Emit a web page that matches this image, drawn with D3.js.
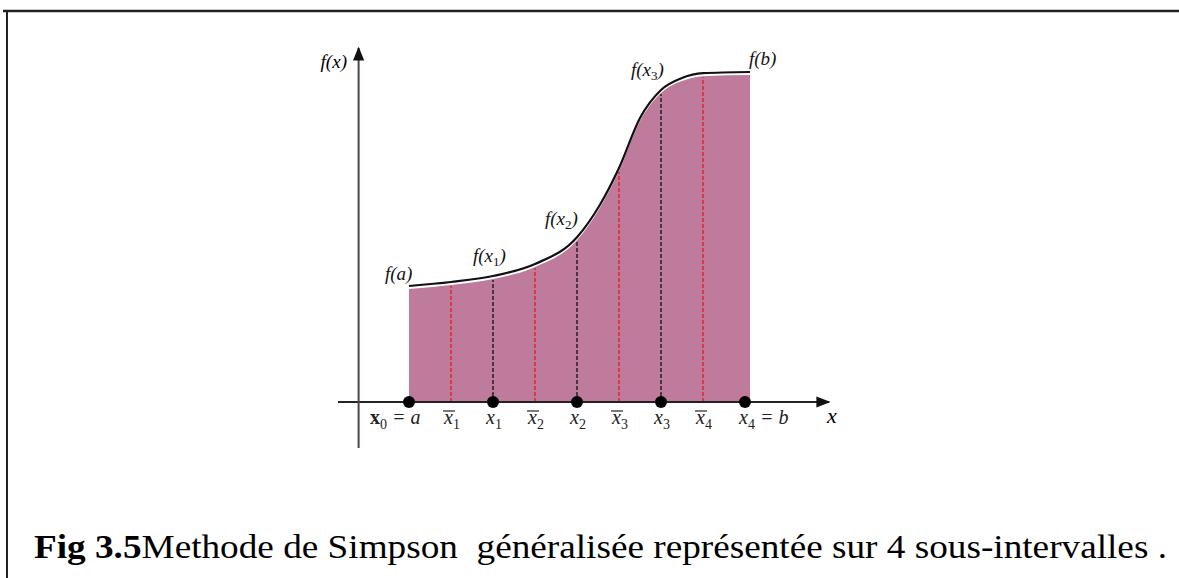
<!DOCTYPE html>
<html>
<head>
  <meta charset="UTF-8">
  <title>Methode de Simpson généralisée</title>
  <script src="https://d3js.org/d3.v7.min.js"></script>
  <style>
    body { margin: 0; background: #fff; }
    svg { display: block; }
  </style>
</head>
<body>
<div id="chart"></div>
<script>
  // curve samples (x in sub-interval units, f(x))
  const curveX = [0, 0.5, 1, 1.5, 2, 2.27, 2.5, 2.75, 3, 3.25, 3.5, 4.06];
  const curveF = [2.9, 3.0, 3.15, 3.45, 4.12, 4.92, 5.85, 7.1, 7.8, 8.1, 8.22, 8.25];

  const nodeX = [0, 1, 2, 3, 4];
  const midX = [0.5, 1.5, 2.5, 3.5];
  // node labels: [before subscript, subscript, after]
  const nodeLabels = [["f(a)", "", ""], ["f(x", "1", ")"], ["f(x", "2", ")"], ["f(x", "3", ")"], ["f(b)", "", ""]];
  // tick labels: [base, subscript, suffix, overbar]
  const tickX = [0, 0.5, 1, 1.5, 2, 2.5, 3, 3.5, 4];
  const tickLabels = [
    ["x", "0", " = a", false], ["x", "1", "", true], ["x", "1", "", false],
    ["x", "2", "", true], ["x", "2", "", false], ["x", "3", "", true],
    ["x", "3", "", false], ["x", "4", "", true], ["x", "4", " = b", false]
  ];
  const caption = ["Fig 3.5", "Methode de Simpson\u00a0 généralisée représentée sur 4 sous-intervalles ."];

  const width = 1179, height = 578;
  const serif = "Liberation Serif";
  const x = d3.scaleLinear().domain([0, 4]).range([409, 745]);
  const y = d3.scaleLinear().domain([0, 1]).range([402, 362]);

  const fAt = v => {
    const i = curveX.findIndex(c => c >= v);
    if (curveX[i] === v) return curveF[i];
    const t = (v - curveX[i - 1]) / (curveX[i] - curveX[i - 1]);
    return curveF[i - 1] + t * (curveF[i] - curveF[i - 1]);
  };

  const svg = d3.select("#chart").append("svg")
    .attr("width", width).attr("height", height);

  // frame
  svg.append("line").attr("x1", 3).attr("x2", width).attr("y1", 11).attr("y2", 11)
    .attr("stroke", "#222").attr("stroke-width", 2.5);
  svg.append("line").attr("x1", 7).attr("x2", 7).attr("y1", 11).attr("y2", height)
    .attr("stroke", "#222").attr("stroke-width", 2);

  const pts = curveX.map((v, i) => [v, curveF[i]]);

  // filled area
  const area = d3.area().x(d => x(d[0])).y0(y(0)).y1(d => y(d[1]) + 3).curve(d3.curveMonotoneX);
  svg.append("path").datum(pts).attr("d", area).attr("fill", "#bf7b9b");

  // dashed verticals
  svg.selectAll(".mid").data(midX).enter().append("line")
    .attr("x1", d => x(d)).attr("x2", d => x(d))
    .attr("y1", y(0)).attr("y2", d => y(fAt(d)) + 4)
    .attr("stroke", "#e8202a").attr("stroke-width", 1.5).attr("stroke-dasharray", "4,2");
  svg.selectAll(".node").data(nodeX.slice(1, 4)).enter().append("line")
    .attr("x1", d => x(d)).attr("x2", d => x(d))
    .attr("y1", y(0)).attr("y2", d => y(fAt(d)) + 4)
    .attr("stroke", "#222").attr("stroke-width", 1.5).attr("stroke-dasharray", "4,2");

  // curve
  const line = d3.line().x(d => x(d[0])).y(d => y(d[1])).curve(d3.curveMonotoneX);
  svg.append("path").datum(pts).attr("d", line)
    .attr("fill", "none").attr("stroke", "#111").attr("stroke-width", 2.2);

  // axes
  const defs = svg.append("defs");
  defs.append("marker").attr("id", "arr").attr("viewBox", "0 0 10 10")
    .attr("refX", 9).attr("refY", 5).attr("markerWidth", 7).attr("markerHeight", 7)
    .attr("orient", "auto")
    .append("path").attr("d", "M0,1 L10,5 L0,9 Z").attr("fill", "#111");

  svg.append("line").attr("x1", x(-0.845)).attr("x2", x(5.0)).attr("y1", y(0)).attr("y2", y(0))
    .attr("stroke", "#222").attr("stroke-width", 2).attr("marker-end", "url(#arr)");
  svg.append("line").attr("x1", x(-0.6)).attr("x2", x(-0.6)).attr("y1", y(-1.15)).attr("y2", y(8.85))
    .attr("stroke", "#5a4048").attr("stroke-width", 2).attr("marker-end", "url(#arr)");

  // node dots
  svg.selectAll(".dot").data(nodeX).enter().append("circle")
    .attr("cx", d => x(d)).attr("cy", y(0)).attr("r", 6).attr("fill", "#000");

  // node labels
  const lblOff = [[-24, -6], [-20, -14], [-32, -12], [-30, -14], [4, -7]];
  const nl = svg.selectAll(".nl").data(nodeX).enter().append("text")
    .attr("font-family", serif).attr("font-style", "italic").attr("font-size", 19).attr("fill", "#111")
    .attr("x", (d, i) => x(d) + lblOff[i][0])
    .attr("y", (d, i) => y(fAt(d)) + lblOff[i][1]);
  nl.append("tspan").text((d, i) => nodeLabels[i][0]);
  nl.append("tspan").attr("dy", 4).attr("font-size", 13).attr("font-style", "normal")
    .text((d, i) => nodeLabels[i][1]);
  nl.append("tspan").attr("dy", (d, i) => nodeLabels[i][1] ? -4 : 0).text((d, i) => nodeLabels[i][2]);

  svg.append("text").attr("font-family", serif).attr("font-style", "italic").attr("font-size", 19)
    .attr("x", x(-0.6) - 38).attr("y", 68).text("f(x)");
  svg.append("text").attr("font-family", serif).attr("font-style", "italic").attr("font-size", 22)
    .attr("x", 827).attr("y", 423).text("x");

  // tick labels
  const tg = svg.selectAll(".tl").data(tickX).enter().append("text")
    .attr("font-family", serif).attr("font-size", 20).attr("fill", "#222")
    .attr("x", (d, i) => x(d) + (i === 0 ? -39 : i === 8 ? -6 : -7))
    .attr("y", 424);
  tg.append("tspan")
    .attr("font-style", (d, i) => i === 0 ? "normal" : "italic")
    .attr("font-weight", (d, i) => i === 0 ? "bold" : "normal")
    .text((d, i) => tickLabels[i][0]);
  tg.append("tspan").attr("dy", 5).attr("font-size", 14).text((d, i) => tickLabels[i][1]);
  tg.append("tspan").attr("dy", -5).attr("font-style", "italic").text((d, i) => tickLabels[i][2].replace(/ /g, "\u00a0"));

  // overbars for midpoints
  svg.selectAll(".bar").data(tickX.filter((d, i) => tickLabels[i][3])).enter().append("line")
    .attr("x1", d => x(d) - 8).attr("x2", d => x(d) + 4)
    .attr("y1", 411).attr("y2", 411)
    .attr("stroke", "#333").attr("stroke-width", 1.3);

  // caption
  const cap = svg.append("text")
    .attr("x", 34).attr("y", 558)
    .attr("font-family", serif)
    .attr("font-size", 34).attr("fill", "#000");
  cap.append("tspan").attr("font-weight", "bold").text(caption[0]);
  cap.append("tspan").text(caption[1]);
  // fit to the reference caption width only if close
  const w = cap.node().getComputedTextLength();
  if (Math.abs(w - 1133) < 120) cap.attr("textLength", 1133).attr("lengthAdjust", "spacingAndGlyphs");
</script>
</body>
</html>
